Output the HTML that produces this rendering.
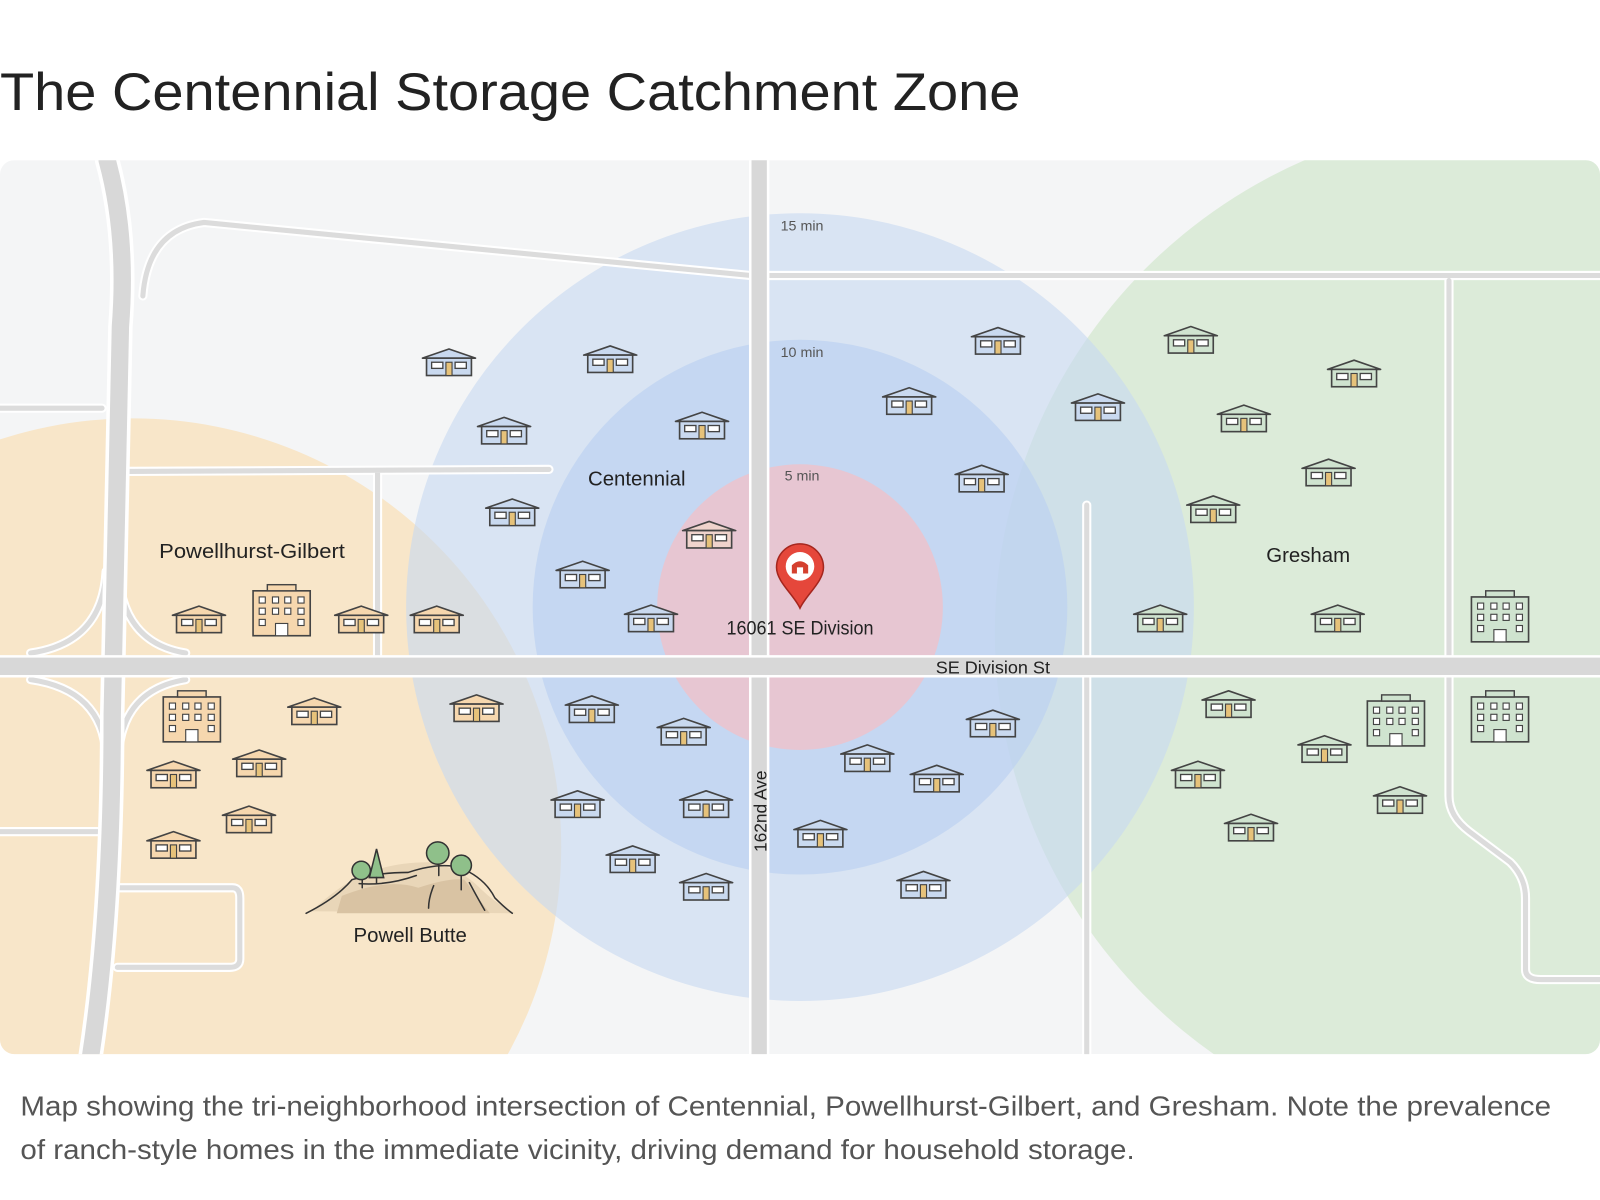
<!DOCTYPE html>
<html><head><meta charset="utf-8"><style>
html,body{margin:0;padding:0;background:#fff;width:1600px;height:1200px;overflow:hidden}
svg{display:block;position:absolute;left:0;top:0}
text{font-family:"Liberation Sans",sans-serif}
</style></head><body>
<svg width="1600" height="1200" viewBox="0 0 1568 1176" xmlns="http://www.w3.org/2000/svg">
<defs>
<clipPath id="mc"><rect x="0" y="157" width="1568" height="876" rx="14"/></clipPath>
<g id="h">
<polygon points="-26,-7 0,-16 26,-7" fill="currentColor" stroke="#444" stroke-width="1.6" stroke-linejoin="round"/>
<rect x="-22" y="-7" width="44" height="17" fill="currentColor" stroke="#444" stroke-width="1.6"/>
<rect x="-17" y="-3" width="11" height="6" fill="#fff" stroke="#444" stroke-width="1.3"/>
<rect x="6" y="-3" width="11" height="6" fill="#fff" stroke="#444" stroke-width="1.3"/>
<rect x="-3" y="-3" width="6" height="13" fill="#e6c27a" stroke="#444" stroke-width="1.1"/>
</g>
<g id="b">
<rect x="-28" y="-21" width="56" height="44" fill="currentColor" stroke="#444" stroke-width="1.6"/>
<rect x="-14" y="-27" width="28" height="6" fill="currentColor" stroke="#444" stroke-width="1.4"/>
<g fill="#fff" stroke="#444" stroke-width="1.1">
<rect x="-22" y="-15" width="6" height="6"/><rect x="-9" y="-15" width="6" height="6"/><rect x="3" y="-15" width="6" height="6"/><rect x="16" y="-15" width="6" height="6"/>
<rect x="-22" y="-4" width="6" height="6"/><rect x="-9" y="-4" width="6" height="6"/><rect x="3" y="-4" width="6" height="6"/><rect x="16" y="-4" width="6" height="6"/>
<rect x="-22" y="7" width="6" height="6"/><rect x="16" y="7" width="6" height="6"/>
<rect x="-6" y="11" width="12" height="12"/>
</g></g>
</defs>
<text x="0" y="108" font-size="52" fill="#222" textLength="1000" lengthAdjust="spacingAndGlyphs">The Centennial Storage Catchment Zone</text>
<g clip-path="url(#mc)">
<rect x="0" y="157" width="1568" height="876" fill="#f4f5f6"/>
<circle cx="130" cy="830" r="420" fill="#f8e6c9"/>
<circle cx="1480" cy="620" r="505" fill="#dcebd9"/>
<circle cx="784" cy="595" r="386" fill="#c6d8f1" opacity="0.6"/>
<circle cx="784" cy="595" r="262" fill="#bcd2f1" opacity="0.7"/>
<circle cx="784" cy="595" r="140" fill="#ecc3cd" opacity="0.85"/>
<g fill="none" stroke-linecap="round" stroke-linejoin="round">
<g stroke="#fff" stroke-width="9">
<path d="M140,290 Q145,225 200,218 L736,270 M752,270 L1568,270"/>
<path d="M118,462 L538,460 M370,462 L370,645"/>
<path d="M0,400 L100,400 M0,815 L100,815"/>
<path d="M115,870 L228,870 Q235,870 235,880 L235,940 Q235,948 225,948 L115,948"/>
<path d="M1420,275 L1420,780 Q1420,800 1440,815 L1480,845 Q1495,860 1495,880 L1495,950 Q1495,960 1510,960 L1568,960"/>
<path d="M1065,495 L1065,1040"/>
<path d="M30,640 Q100,630 104,560 M182,640 Q120,630 116,560 M30,666 Q100,676 104,740 M182,666 Q120,676 116,740"/>
</g>
<g stroke="#dcdcdc" stroke-width="5">
<path d="M140,290 Q145,225 200,218 L736,270 M752,270 L1568,270"/>
<path d="M118,462 L538,460 M370,462 L370,645"/>
<path d="M0,400 L100,400 M0,815 L100,815"/>
<path d="M115,870 L228,870 Q235,870 235,880 L235,940 Q235,948 225,948 L115,948"/>
<path d="M1420,275 L1420,780 Q1420,800 1440,815 L1480,845 Q1495,860 1495,880 L1495,950 Q1495,960 1510,960 L1568,960"/>
<path d="M1065,495 L1065,1040"/>
<path d="M30,640 Q100,630 104,560 M182,640 Q120,630 116,560 M30,666 Q100,676 104,740 M182,666 Q120,676 116,740"/>
</g>
<path d="M105,157 Q125,230 118,320 L110,700 Q110,900 88,1040" stroke="#fff" stroke-width="24"/>
<path d="M105,157 Q125,230 118,320 L110,700 Q110,900 88,1040" stroke="#d8d8d8" stroke-width="17"/>
<path d="M744,150 L744,1040" stroke="#fff" stroke-width="20"/>
<path d="M744,150 L744,1040" stroke="#d8d8d8" stroke-width="15"/>
<path d="M-5,653 L1575,653" stroke="#fff" stroke-width="22"/>
<path d="M-5,653 L1575,653" stroke="#d8d8d8" stroke-width="17"/>
</g>
<g color="#c9d9ef">
<use href="#h" x="440" y="358"/><use href="#h" x="598" y="355"/><use href="#h" x="494" y="425"/><use href="#h" x="688" y="420"/><use href="#h" x="502" y="505"/><use href="#h" x="571" y="566"/><use href="#h" x="638" y="609"/><use href="#h" x="580" y="698"/><use href="#h" x="670" y="720"/><use href="#h" x="566" y="791"/><use href="#h" x="692" y="791"/><use href="#h" x="620" y="845"/><use href="#h" x="692" y="872"/><use href="#h" x="804" y="820"/><use href="#h" x="850" y="746"/><use href="#h" x="918" y="766"/><use href="#h" x="905" y="870"/><use href="#h" x="973" y="712"/><use href="#h" x="891" y="396"/><use href="#h" x="978" y="337"/><use href="#h" x="962" y="472"/><use href="#h" x="1076" y="402"/>
</g>
<use href="#h" x="695" y="527" color="#efd3cc"/>
<g color="#f6d7ae">
<use href="#h" x="195" y="610"/><use href="#h" x="354" y="610"/><use href="#h" x="428" y="610"/><use href="#h" x="308" y="700"/><use href="#h" x="467" y="697"/><use href="#h" x="170" y="762"/><use href="#h" x="254" y="751"/><use href="#h" x="244" y="806"/><use href="#h" x="170" y="831"/>
<use href="#b" x="276" y="600"/><use href="#b" x="188" y="704"/>
</g>
<g color="#cfe3cf">
<use href="#h" x="1167" y="336"/><use href="#h" x="1327" y="369"/><use href="#h" x="1219" y="413"/><use href="#h" x="1302" y="466"/><use href="#h" x="1189" y="502"/><use href="#h" x="1137" y="609"/><use href="#h" x="1311" y="609"/><use href="#h" x="1204" y="693"/><use href="#h" x="1298" y="737"/><use href="#h" x="1174" y="762"/><use href="#h" x="1372" y="787"/><use href="#h" x="1226" y="814"/>
<use href="#b" x="1470" y="606"/><use href="#b" x="1368" y="708"/><use href="#b" x="1470" y="704"/>
</g>
<g stroke="#333" stroke-width="1.5" stroke-linecap="round">
<path d="M305,893 Q330,870 350,860 Q380,845 420,845 Q450,850 470,870 Q485,885 505,895 Z" fill="#e9d6b8" stroke="none"/>
<path d="M330,895 L335,878 Q380,860 410,870 Q440,860 455,862 L480,895 Z" fill="#d9c3a3" stroke="none"/>
<path d="M300,895 Q330,880 345,862 Q370,855 400,855 Q430,845 450,850 Q475,860 485,880 Q495,890 502,895" fill="none"/>
<path d="M352,866 Q380,868 408,858 M425,868 Q420,880 420,890 M460,865 Q468,880 475,892" fill="none"/>
<line x1="355" y1="870" x2="355" y2="855"/><circle cx="354" cy="853" r="9" fill="#8fc08a"/>
<polygon points="369,832 362,860 376,860" fill="#8fc08a"/><line x1="369" y1="860" x2="369" y2="866"/>
<line x1="430" y1="858" x2="430" y2="840"/><circle cx="429" cy="836" r="11" fill="#8fc08a"/>
<line x1="452" y1="872" x2="452" y2="852"/><circle cx="452" cy="848" r="10" fill="#8fc08a"/>
</g>
<g transform="translate(784,558)">
<path d="M0,38 C-6,25 -23,12 -23,-2 A23,23 0 1 1 23,-2 C23,12 6,25 0,38 Z" fill="#e5473b" stroke="#a5261e" stroke-width="1.5"/>
<circle cx="0" cy="-3" r="14" fill="#fff"/>
<path d="M-8,4 L-8,-4 Q0,-12 8,-4 L8,4 Z" fill="#d4402f"/>
<rect x="-3" y="-2" width="6" height="6" fill="#fff"/>
</g>
<g fill="#555" font-size="14" text-anchor="middle">
<text x="786" y="226">15 min</text><text x="786" y="350">10 min</text><text x="786" y="471">5 min</text>
</g>
<g fill="#222" font-size="20" text-anchor="middle">
<text x="624" y="476">Centennial</text>
<text x="247" y="547" textLength="182" lengthAdjust="spacingAndGlyphs">Powellhurst-Gilbert</text>
<text x="1282" y="551">Gresham</text>
<text x="402" y="923">Powell Butte</text>
<text x="784" y="622" font-size="19" textLength="144" lengthAdjust="spacingAndGlyphs">16061 SE Division</text>
<text x="973" y="660" font-size="17" textLength="112" lengthAdjust="spacingAndGlyphs">SE Division St</text>
<text transform="translate(751,795) rotate(-90)" font-size="17">162nd Ave</text>
</g>
</g>
<g fill="#555" font-size="27">
<text x="20" y="1093" textLength="1500" lengthAdjust="spacingAndGlyphs">Map showing the tri-neighborhood intersection of Centennial, Powellhurst-Gilbert, and Gresham. Note the prevalence</text>
<text x="20" y="1136" textLength="1092" lengthAdjust="spacingAndGlyphs">of ranch-style homes in the immediate vicinity, driving demand for household storage.</text>
</g>
</svg>
</body></html>
